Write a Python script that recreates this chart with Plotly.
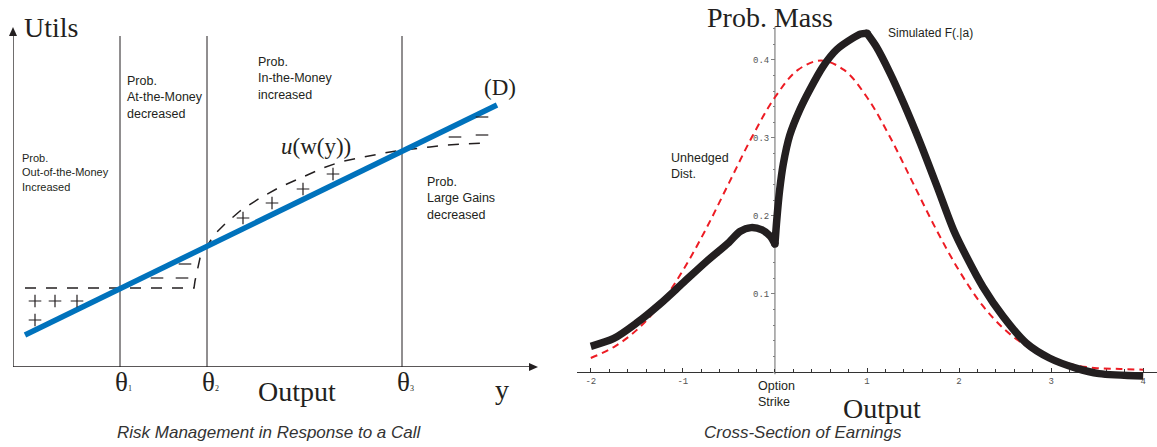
import plotly.graph_objects as go

W, H = 1157, 447

# ---------------- left panel: utility schematic (output / utils units) ----------------
theta_x = [1.07, 1.94, 3.89]
theta_sub = ["1", "2", "3"]
region_top = 3.31

linear_x = [0.12, 4.84]
linear_u = [0.32, 2.62]

hedged_x = [0.12, 1.81, 1.82, 1.87, 1.94, 2.02, 2.12, 2.27, 2.47, 2.67, 2.90, 3.10,
            3.27, 3.50, 3.77, 3.90, 4.17, 4.34, 4.72]
hedged_u = [0.79, 0.79, 0.86, 1.09, 1.21, 1.33, 1.43, 1.56, 1.69, 1.80, 1.90, 1.99,
            2.05, 2.10, 2.15, 2.17, 2.20, 2.22, 2.24]

plus_x = [0.22, 0.42, 0.64, 0.22, 2.30, 2.59, 2.90, 3.20]
plus_u = [0.66, 0.66, 0.66, 0.47, 1.49, 1.64, 1.78, 1.93]
minus_x = [1.44, 1.69, 1.72, 4.42, 4.69, 4.69]
minus_u = [0.89, 0.89, 1.03, 2.30, 2.32, 2.50]

# ---------------- right panel: cross-section of earnings ----------------
unhedged_x = [-2.0, -1.75, -1.5, -1.25, -1.0, -0.75, -0.5, -0.25, 0.0, 0.25, 0.5, 0.75,
              1.0, 1.25, 1.5, 1.75, 2.0, 2.25, 2.5, 2.75, 3.0, 3.25, 3.5, 3.75, 4.0]
unhedged_pdf = [0.018, 0.032, 0.054, 0.086, 0.130, 0.183, 0.242, 0.301, 0.352, 0.387,
                0.399, 0.387, 0.352, 0.301, 0.242, 0.183, 0.130, 0.086, 0.054, 0.032,
                0.018, 0.009, 0.005, 0.004, 0.003]

# simulated density, in three pieces split at the kinks (strike and peak)
sim_left_x = [-2.0, -1.75, -1.5, -1.25, -1.0, -0.75, -0.5, -0.38, -0.26, -0.14, -0.05, 0.0]
sim_left_pdf = [0.033, 0.043, 0.063, 0.087, 0.114, 0.141, 0.166, 0.180, 0.185, 0.182,
                0.174, 0.164]
sim_mid_x = [0.0, 0.02, 0.05, 0.09, 0.16, 0.27, 0.38, 0.52, 0.67, 0.85, 0.93, 1.0]
sim_mid_pdf = [0.164, 0.195, 0.232, 0.266, 0.303, 0.336, 0.362, 0.391, 0.413, 0.428,
               0.433, 0.434]
sim_right_x = [1.0, 1.1, 1.25, 1.4, 1.58, 1.76, 1.94, 2.08, 2.26, 2.48, 2.73, 2.98, 3.27,
               3.52, 4.0]
sim_right_pdf = [0.434, 0.417, 0.383, 0.344, 0.293, 0.238, 0.182, 0.148, 0.109, 0.071,
                 0.037, 0.018, 0.005, -0.002, -0.005]

x_tick_vals = [-2, -1, 1, 2, 3, 4]
x_tick_text = ["-2", "-1", "1", "2", "3", "4"]
y_tick_vals = [0.1, 0.2, 0.3, 0.4]
y_tick_text = ["0.1", "0.2", "0.3", "0.4"]

INK = "#231f20"
BLUE = "#0072bc"
RED = "#ed1c24"
SERIF = "Liberation Serif"
SANS = "Liberation Sans"
MONO = "Liberation Mono"


def px(x):
    return x / W


def py(y):
    return 1 - y / H


fig = go.Figure()

# left panel traces
fig.add_trace(go.Scatter(x=hedged_x, y=hedged_u, mode="lines", xaxis="x", yaxis="y",
                         line=dict(color=INK, width=1.5, dash="11px,10px"), hoverinfo="skip"))
fig.add_trace(go.Scatter(x=linear_x, y=linear_u, mode="lines", xaxis="x", yaxis="y",
                         line=dict(color=BLUE, width=5.5), hoverinfo="skip"))
fig.add_trace(go.Scatter(x=plus_x, y=plus_u, mode="markers", xaxis="x", yaxis="y",
                         marker=dict(symbol="cross-thin", size=9,
                                     line=dict(color=INK, width=1.2)),
                         hoverinfo="skip"))
fig.add_trace(go.Scatter(x=minus_x, y=minus_u, mode="markers", xaxis="x", yaxis="y",
                         marker=dict(symbol="line-ew", size=9,
                                     line=dict(color=INK, width=1.2)),
                         hoverinfo="skip"))

# right panel traces
fig.add_trace(go.Scatter(x=unhedged_x, y=unhedged_pdf, mode="lines", xaxis="x2", yaxis="y2",
                         line=dict(color=RED, width=2, dash="7px,5px", shape="spline"),
                         hoverinfo="skip"))
for sx, sy in [(sim_left_x, sim_left_pdf), (sim_mid_x, sim_mid_pdf),
               (sim_right_x, sim_right_pdf)]:
    fig.add_trace(go.Scatter(x=sx, y=sy, mode="lines", xaxis="x2", yaxis="y2",
                             line=dict(color=INK, width=7.5, shape="spline", smoothing=0.8),
                             hoverinfo="skip"))
# round joints at the kinks
fig.add_trace(go.Scatter(x=[sim_mid_x[0], sim_mid_x[-1]], y=[sim_mid_pdf[0], sim_mid_pdf[-1]],
                         mode="markers", xaxis="x2", yaxis="y2",
                         marker=dict(color=INK, size=7.5), hoverinfo="skip"))

shapes = []
# left axes with arrowheads
shapes.append(dict(type="line", xref="x", yref="y", x0=0, y0=0, x1=0, y1=3.32,
                   line=dict(color=INK, width=1.3)))
shapes.append(dict(type="line", xref="x", yref="y", x0=0, y0=0, x1=5.17, y1=0,
                   line=dict(color=INK, width=1.3)))


def tri(p1, p2, p3):
    return "M {},{} L {},{} L {},{} Z".format(px(p1[0]), py(p1[1]), px(p2[0]), py(p2[1]),
                                              px(p3[0]), py(p3[1]))


shapes.append(dict(type="path", xref="paper", yref="paper", path=tri((13, 27), (9, 36), (17, 36)),
                   fillcolor=INK, line=dict(width=0)))
shapes.append(dict(type="path", xref="paper", yref="paper",
                   path=tri((538, 367), (529, 363), (529, 371)),
                   fillcolor=INK, line=dict(width=0)))
for t in theta_x:
    shapes.append(dict(type="line", xref="x", yref="y", x0=t, y0=0, x1=t, y1=region_top,
                       line=dict(color=INK, width=1), layer="below"))
# right vertical axis line at the option strike
shapes.append(dict(type="line", xref="x2", yref="y2", x0=0, y0=-0.003, x1=0, y1=0.442,
                   line=dict(color="#808080", width=1.2), layer="below"))

annotations = []


def ann(text, x, y, size, family=SANS, xanchor="left", yanchor="middle", align="left",
        color=INK, xshift=0):
    annotations.append(dict(text=text, x=px(x), y=py(y), xref="paper", yref="paper",
                            showarrow=False, xanchor=xanchor, yanchor=yanchor, align=align,
                            font=dict(family=family, size=size, color=color), xshift=xshift))


# left panel text
ann("Utils", 22, 27, 28, SERIF)
ann("Prob.<br>Out-of-the-Money<br>Increased", 20, 172, 11)
ann("Prob.<br>At-the-Money<br>decreased", 125, 97.5, 12.5)
ann("Prob.<br>In-the-Money<br>increased", 256, 78.5, 12.5)
ann("Prob.<br>Large Gains<br>decreased", 425, 198, 12.5)
ann("<i>u</i>(w(y))", 279, 146, 23, SERIF)
ann("(D)", 482, 88, 23, SERIF)
for t, s in zip(theta_x, theta_sub):
    annotations.append(dict(text="θ<span style='font-size:8px'>" + s + "</span>",
                            x=t, y=py(382), xref="x", yref="paper", showarrow=False,
                            xanchor="center", yanchor="middle", xshift=3,
                            font=dict(family=SERIF, size=27, color=INK)))
ann("Output", 256, 391, 28, SERIF)
ann("y", 493, 389, 28, SERIF)
ann("<i>Risk Management in Response to a Call</i>", 269, 432, 17, SANS, xanchor="center",
    color="#333333")

# right panel text
ann("Prob. Mass", 705, 17, 28, SERIF)
ann("Simulated F(.|a)", 886, 33, 12)
ann("Unhedged<br>Dist.", 669, 166, 12.5)
ann("Option<br>Strike", 756, 394, 12.5)
ann("Output", 841, 408, 28, SERIF)
ann("<i>Cross-Section of Earnings</i>", 803, 432, 17, SANS, xanchor="center", color="#333333")

fig.update_layout(
    width=W, height=H,
    margin=dict(l=0, r=0, t=0, b=0),
    paper_bgcolor="white", plot_bgcolor="white",
    showlegend=False,
    shapes=shapes, annotations=annotations,
    xaxis=dict(domain=[px(13), px(537)], range=[0, 5.24], visible=False, fixedrange=True),
    yaxis=dict(domain=[py(367), py(28)], range=[0, 3.39], visible=False, fixedrange=True),
    xaxis2=dict(domain=[px(577), 1.0], range=[-2.15, 4.15], anchor="free", position=py(372),
                showline=True, linecolor="#333333", linewidth=1.2, showgrid=False,
                zeroline=False, tickmode="array", tickvals=x_tick_vals, ticktext=x_tick_text,
                ticks="inside", ticklen=4, tickcolor="#333333", tickwidth=1,
                minor=dict(dtick=0.2, tick0=0, ticks="inside", ticklen=2.5,
                           tickcolor="#333333", tickwidth=1),
                tickfont=dict(family=MONO, size=9, color="#555555"),
                layer="below traces", fixedrange=True),
    yaxis2=dict(domain=[py(381.4), py(27)], range=[-0.012, 0.442], anchor="free",
                position=px(775), showline=False, showgrid=False, zeroline=False,
                tickmode="array", tickvals=y_tick_vals, ticktext=y_tick_text,
                ticks="outside", ticklen=4, tickcolor="#808080", tickwidth=1,
                minor=dict(dtick=0.02, tick0=0, ticks="outside", ticklen=2.5,
                           tickcolor="#808080", tickwidth=1),
                tickfont=dict(family=MONO, size=9, color="#555555"),
                layer="below traces", fixedrange=True),
)

fig.write_html("out.html")
